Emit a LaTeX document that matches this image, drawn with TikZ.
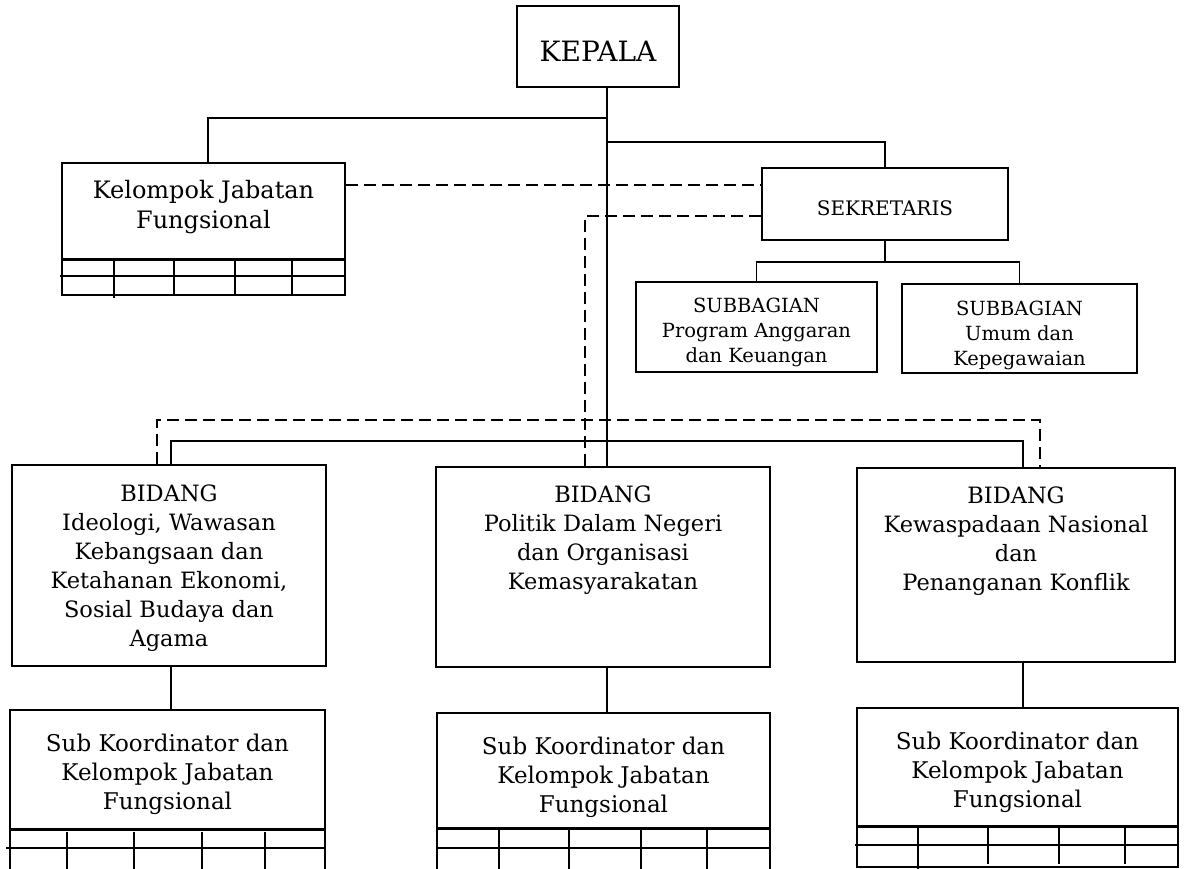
\documentclass[tikz,border=0pt]{standalone}
\usepackage{fontspec}
\setmainfont{DejaVu Serif}
\usetikzlibrary{positioning}

\begin{document}
\begin{tikzpicture}[
    x=1pt, y=-1pt,
    box/.style={draw, line width=1.8pt, inner sep=0pt},
    txt/.style={align=center, inner sep=0pt, font=\fontsize{22.5}{29}\selectfont},
    sktxt/.style={align=center, inner sep=0pt, font=\fontsize{23}{29}\selectfont},
    subtxt/.style={align=center, inner sep=0pt, font=\fontsize{19.5}{25}\selectfont},
    conn/.style={line width=1.7pt},
    dashline/.style={line width=1.8pt, dash pattern=on 12pt off 6pt},
    grid/.style={line width=1.7pt},
    rule/.style={line width=3pt}
  ]
  \useasboundingbox (0,0) rectangle (1188,869);

  % top
  \node[box, minimum width=162pt, minimum height=81pt, text height=30pt,
        font=\fontsize{28}{34}\selectfont] (kepala) at (598,46.5) {KEPALA};
  \node[box, minimum width=283pt, minimum height=96pt] (kjf) at (203.5,211) {};
  \node[txt, font=\fontsize{24}{30}\selectfont, below=18pt of kjf.north] (kjf-t) {Kelompok Jabatan\\Fungsional};
  \node[box, minimum width=246pt, minimum height=72pt, text height=24pt,
        font=\fontsize{20}{24}\selectfont] (sekr) at (885,204) {SEKRETARIS};

  % subbagian
  \node[box, minimum width=241pt, minimum height=90pt] (sub1) at (756.5,327) {};
  \node[subtxt, below=17pt of sub1.north] (sub1-t) {SUBBAGIAN\\Program Anggaran\\dan Keuangan};
  \node[box, minimum width=235pt, minimum height=89pt] (sub2) at (1019.5,328.5) {};
  \node[subtxt, below=18pt of sub2.north] (sub2-t) {SUBBAGIAN\\Umum dan\\Kepegawaian};

  % bidang
  \node[box, minimum width=314pt, minimum height=201pt] (bid1) at (169,565.5) {};
  \node[txt, below=20pt of bid1.north] (bid1-t) {BIDANG\\Ideologi, Wawasan\\Kebangsaan dan\\Ketahanan Ekonomi,\\Sosial Budaya dan\\Agama};
  \node[box, minimum width=334pt, minimum height=200pt] (bid2) at (603,567) {};
  \node[txt, below=19pt of bid2.north] (bid2-t) {BIDANG\\Politik Dalam Negeri\\dan Organisasi\\Kemasyarakatan};
  \node[box, minimum width=318pt, minimum height=194pt] (bid3) at (1016,565) {};
  \node[txt, below=19pt of bid3.north] (bid3-t) {BIDANG\\Kewaspadaan Nasional\\dan\\Penanganan Konflik};

  % sub koordinator
  \node[box, minimum width=315pt, minimum height=119pt] (sk1) at (167.5,769.5) {};
  \node[sktxt, below=25pt of sk1.north] (sk1-t) {Sub Koordinator dan\\Kelompok Jabatan\\Fungsional};
  \node[box, minimum width=333pt, minimum height=115pt] (sk2) at (603.5,770.5) {};
  \node[sktxt, below=25pt of sk2.north] (sk2-t) {Sub Koordinator dan\\Kelompok Jabatan\\Fungsional};
  \node[box, minimum width=321pt, minimum height=118pt] (sk3) at (1017.5,767) {};
  \node[sktxt, below=25pt of sk3.north] (sk3-t) {Sub Koordinator dan\\Kelompok Jabatan\\Fungsional};

  % join points
  \coordinate (trunk) at (607,0);
  \coordinate (j1) at (607,118);
  \coordinate (j2) at (607,142);
  \coordinate (sekrjoin) at (885,262);
  \coordinate (bL) at (171,441);
  \coordinate (bR) at (1023,441);
  \coordinate (dA) at (0,185);
  \coordinate (dB) at (585,216);
  \coordinate (dL) at (157,420);
  \coordinate (dR) at (1040,420);

  % lines
  \draw[conn] (kepala.south -| trunk) -- (bid2.north -| trunk);
  \draw[conn] ([xshift=4.5pt]kjf.north) |- (j1);
  \draw[conn] (sekr.north) |- (j2);
  \draw[conn] (sub1.north) |- (sekrjoin) -| (sub2.north);
  \draw[conn] (sekr.south) -- (sekrjoin);
  \draw[conn] (bid1.north -| bL) |- (bR) -- (bid3.north -| bR);
  \draw[conn] (bid1.south -| bL) -- (sk1.north -| bL);
  \draw[conn] (bid2.south -| trunk) -- (sk2.north -| trunk);
  \draw[conn] (bid3.south -| bR) -- (sk3.north -| bR);

  % dashed lines
  \draw[dashline] (kjf.east |- dA) -- (sekr.west |- dA);
  \draw[dashline] (sekr.west |- dB) -| (bid2.north -| dB);
  \draw[dashline] (bid1.north -| dL) |- (dR) -- (bid3.north -| dR);

  % tables
  \draw[grid] (62,259) -- (62,295) -- (345,295) -- (345,259);
  \draw[grid] (60,276) -- (345,276);
  \draw[rule] (62,259) -- (345,259);
  \draw[grid] (114,259) -- (114,298);
  \foreach \cx in {174,235,292} \draw[grid] (\cx,259) -- (\cx,295);

  \draw[grid] (10,829) -- (10,869);
  \draw[grid] (325,829) -- (325,869);
  \draw[grid] (6,848) -- (325,848);
  \draw[rule] (10,829) -- (325,829);
  \foreach \cx in {67,134,202,265} \draw[grid] (\cx,832) -- (\cx,869);

  \draw[grid] (437,828) -- (437,869);
  \draw[grid] (770,828) -- (770,869);
  \draw[grid] (436,848) -- (770,848);
  \draw[rule] (437,828) -- (770,828);
  \foreach \cx in {499,569,641,707} \draw[grid] (\cx,830) -- (\cx,869);

  \draw[grid] (857,826) -- (857,867) -- (1178,867) -- (1178,826);
  \draw[grid] (855,845) -- (1178,845);
  \draw[rule] (857,826) -- (1178,826);
  \draw[grid] (918,828) -- (918,869);
  \foreach \cx in {988,1059,1125} \draw[grid] (\cx,828) -- (\cx,864);
\end{tikzpicture}
\end{document}
